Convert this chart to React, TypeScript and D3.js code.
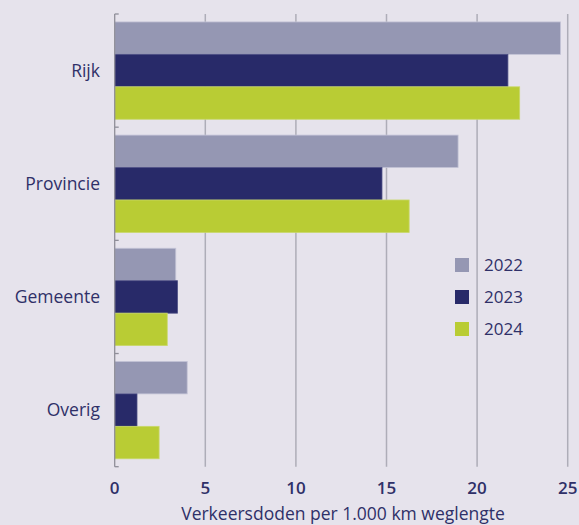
import React, { useEffect, useRef } from 'react';
import * as d3 from 'd3';

const categories = ['Rijk', 'Provincie', 'Gemeente', 'Overig'];
const years = ['2022', '2023', '2024'];
const values2022 = [24.6, 18.95, 3.37, 4.0];
const values2023 = [21.7, 14.75, 3.46, 1.23];
const values2024 = [22.35, 16.25, 2.9, 2.45];
const xTicks = [0, 5, 10, 15, 20, 25];

const colors = ['#9597b3', '#282a69', '#b9cc34'];
const strokes = ['#c3c3d6', '#4a4c82', '#c9d86a'];
const textColor = '#2f3068';
const font = '"Open Sans", "Noto Sans", sans-serif';

const App: React.FC = () => {
  const ref = useRef<SVGSVGElement>(null);

  useEffect(() => {
    document.body.style.margin = '0';
    if (!ref.current) return;
    const svg = d3.select(ref.current);
    svg.selectAll('*').remove();

    const width = 579;
    const height = 525;
    const margin = { top: 14, left: 114.7, right: 11.3, bottom: 58.3 };
    const innerH = height - margin.top - margin.bottom;

    svg.append('rect').attr('width', width).attr('height', height).attr('fill', '#e6e3ec');

    const x = d3.scaleLinear().domain([0, 25]).range([margin.left, width - margin.right]);
    const y0 = d3.scaleBand<string>()
      .domain(categories)
      .range([margin.top, margin.top + innerH])
      .paddingInner(0.14)
      .paddingOuter(0.07);
    const y1 = d3.scaleBand<string>().domain(years).range([0, y0.bandwidth()]);
    const step = y0.step();

    // gridlines
    svg.append('g')
      .selectAll('line')
      .data(xTicks.slice(1))
      .join('line')
      .attr('x1', d => x(d))
      .attr('x2', d => x(d))
      .attr('y1', margin.top)
      .attr('y2', margin.top + innerH)
      .attr('stroke', '#aeadb8')
      .attr('stroke-width', 1.5);

    const series = [values2022, values2023, values2024];
    const rows = categories.map((c, i) => ({ cat: c, vals: series.map(s => s[i]) }));

    const groups = svg.append('g')
      .selectAll('g')
      .data(rows)
      .join('g')
      .attr('transform', d => `translate(0,${y0(d.cat)})`);

    groups.selectAll('rect')
      .data(d => d.vals.map((v, j) => ({ v, j })))
      .join('rect')
      .attr('x', x(0))
      .attr('y', d => y1(years[d.j]) as number)
      .attr('width', d => x(d.v) - x(0))
      .attr('height', y1.bandwidth())
      .attr('fill', d => colors[d.j])
      .attr('stroke', d => strokes[d.j])
      .attr('stroke-width', 0.8);

    // left axis line and small ticks
    const ax = svg.append('g').attr('stroke', '#8f8e99').attr('stroke-width', 1.3);
    ax.append('line')
      .attr('x1', x(0)).attr('x2', x(0))
      .attr('y1', margin.top).attr('y2', margin.top + innerH);
    const bounds = d3.range(categories.length + 1).map(i => margin.top + i * step);
    ax.selectAll('line.t')
      .data(bounds)
      .join('line')
      .attr('class', 't')
      .attr('x1', x(0))
      .attr('x2', x(0) + 4)
      .attr('y1', d => d)
      .attr('y2', d => d);

    // category labels
    svg.append('g')
      .selectAll('text')
      .data(categories)
      .join('text')
      .attr('x', 100)
      .attr('y', d => (y0(d) as number) + y0.bandwidth() / 2)
      .attr('dy', '0.35em')
      .attr('text-anchor', 'end')
      .attr('fill', textColor)
      .style('font-family', font)
      .style('font-size', '17.5px')
      .text(d => d);

    // x tick labels
    svg.append('g')
      .selectAll('text')
      .data(xTicks)
      .join('text')
      .attr('x', d => x(d))
      .attr('y', 488)
      .attr('dy', '0.35em')
      .attr('text-anchor', 'middle')
      .attr('fill', textColor)
      .style('font-family', font)
      .style('font-size', '17px')
      .style('font-weight', 600)
      .text(d => d);

    svg.append('text')
      .attr('x', 343)
      .attr('y', 514)
      .attr('dy', '0.35em')
      .attr('text-anchor', 'middle')
      .attr('fill', textColor)
      .style('font-family', font)
      .style('font-size', '17.5px')
      .text('Verkeersdoden per 1.000 km weglengte');

    // legend
    const legend = svg.append('g')
      .selectAll('g')
      .data(years)
      .join('g')
      .attr('transform', (d, i) => `translate(455,${258 + i * 32})`);
    legend.append('rect')
      .attr('width', 14)
      .attr('height', 14)
      .attr('fill', (d, i) => colors[i]);
    legend.append('text')
      .attr('x', 29)
      .attr('y', 7)
      .attr('dy', '0.35em')
      .attr('fill', textColor)
      .style('font-family', font)
      .style('font-size', '17px')
      .text(d => d);
  }, []);

  return <svg ref={ref} width={579} height={525} style={{ display: 'block' }}></svg>;
};

export default App;
